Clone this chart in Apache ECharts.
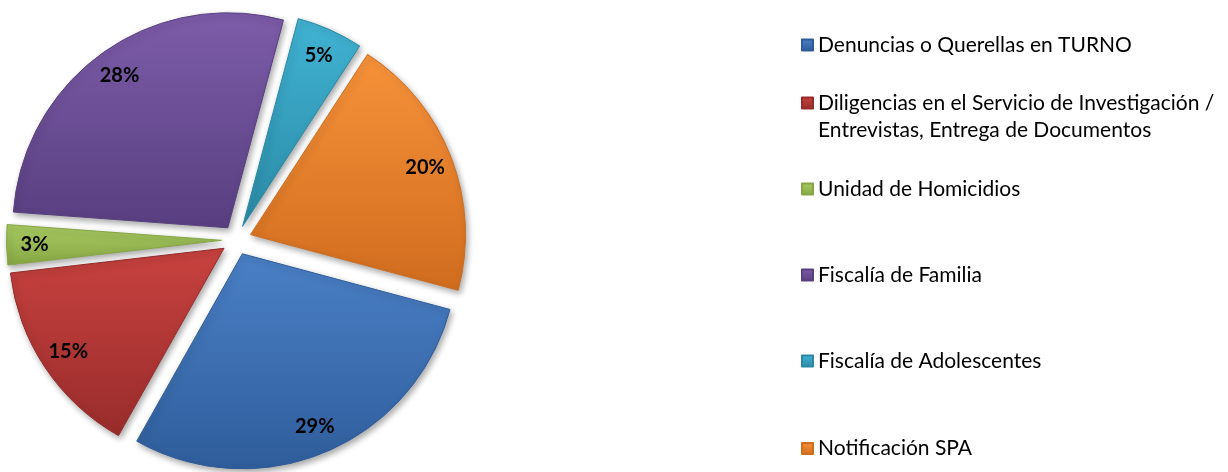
<!DOCTYPE html>
<html>
<head>
<meta charset="utf-8">
<script src="https://cdn.jsdelivr.net/npm/echarts@6/dist/echarts.min.js"></script>
<style>
  html, body { margin: 0; padding: 0; background: #fff; }
  #chart { width: 1228px; height: 472px; }
</style>
</head>
<body>
<div id="chart"></div>
<script>
// categories and their shares (%), clockwise order as drawn
var categories = [
  "Denuncias o Querellas en TURNO",
  "Diligencias en el Servicio de Investigación / Entrevistas, Entrega de Documentos",
  "Unidad de Homicidios",
  "Fiscalía de Familia",
  "Fiscalía de Adolescentes",
  "Notificación SPA"
];
var shares = [29, 15, 3, 28, 5, 20];

// light / dark shade of each slice (bevel-like gradient)
var shades = [
  ["#4a80c6", "#2f5d9b"],
  ["#c8423f", "#982c2b"],
  ["#a9cb62", "#86a643"],
  ["#7d5ca9", "#583f80"],
  ["#41b3d3", "#2a8aa6"],
  ["#f7923a", "#d06c1e"]
];

function grad(i) {
  return new echarts.graphic.LinearGradient(0, 0, 0, 1, [
    { offset: 0, color: shades[i][0] },
    { offset: 1, color: shades[i][1] }
  ]);
}

var center = [236.5, 240];
var startAng = -15;
var fontFam = "Lato, 'Liberation Sans', sans-serif";

var pieData = categories.map(function (name, i) {
  return {
    name: name,
    value: shares[i],
    selected: true,
    itemStyle: { color: grad(i), borderColor: shades[i][1] }
  };
});

var labelData = categories.map(function (name, i) {
  return { name: name, value: shares[i], selected: true };
});

// one legend block per entry, spaced like the original
var legendTops = [31.5, 62.5, 175.5, 261.5, 347.5, 435];
var legends = categories.map(function (name, i) {
  return {
    data: [name],
    orient: "vertical",
    left: 801,
    top: legendTops[i],
    padding: 0,
    icon: "rect",
    itemWidth: 11,
    itemHeight: 11,
    selectedMode: false,
    // long entry wraps; blank first line keeps the marker on the first text line
    formatter: function (n) {
      return n.indexOf(" / ") > 0 ? "\n" + n.replace(" / ", " /\n") : n;
    },
    textStyle: {
      fontFamily: fontFam,
      fontSize: 21,
      color: "#000",
      lineHeight: 27
    }
  };
});

var chart = echarts.init(document.getElementById("chart"));
chart.setOption({
  animation: false,
  legend: legends,
  series: [
    {
      type: "pie",
      center: center,
      radius: [0, 215],
      startAngle: startAng,
      clockwise: true,
      selectedMode: "multiple",
      selectedOffset: 15,
      silent: true,
      label: { show: false },
      labelLine: { show: false },
      itemStyle: {
        borderWidth: 1,
        shadowBlur: 6,
        shadowOffsetX: 2,
        shadowOffsetY: 3,
        shadowColor: "rgba(0,0,0,0.35)"
      },
      emphasis: { disabled: true },
      data: pieData
    },
    {
      // transparent ring only used to place the percentage labels near the rim
      type: "pie",
      center: center,
      radius: [153, 215],
      startAngle: startAng,
      clockwise: true,
      selectedMode: "multiple",
      selectedOffset: 15,
      silent: true,
      itemStyle: { color: "rgba(0,0,0,0)", borderWidth: 0 },
      select: { itemStyle: { color: "rgba(0,0,0,0)", borderWidth: 0 } },
      emphasis: { disabled: true },
      labelLine: { show: false },
      label: {
        show: true,
        position: "inside",
        formatter: "{c}%",
        fontFamily: fontFam,
        fontWeight: "bold",
        fontSize: 20,
        color: "#000"
      },
      data: labelData
    }
  ]
});
</script>
</body>
</html>
